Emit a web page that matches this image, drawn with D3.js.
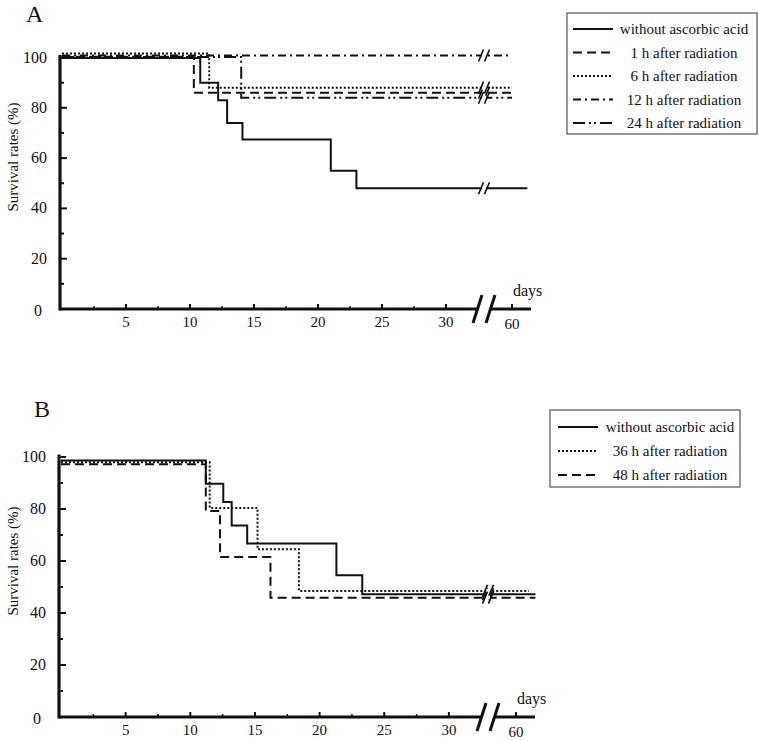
<!DOCTYPE html>
<html>
<head>
<meta charset="utf-8">
<script src="https://cdn.jsdelivr.net/npm/d3@7"></script>
<style>
  body { margin: 0; background: #fff; }
</style>
</head>
<body>
<div id="chart"></div>
<script>
// axis ticks shared by both panels
var xTicks = [5, 10, 15, 20, 25, 30, 60];
var xMinorTicks = [2.5, 7.5, 12.5, 17.5, 22.5, 27.5];
var yTicks = [0, 20, 40, 60, 80, 100];
var yMinorTicks = [10, 30, 50, 70, 90];

// Panel A - survival (%) by day, step curves
var aWithoutDays = [0, 10.8, 12.2, 12.9, 14.1, 21, 23, 61.2];
var aWithoutSurv = [99.8, 90, 83, 74, 67.4, 55, 48, 48];
var a1hDays = [0, 10.3, 60];
var a1hSurv = [100.3, 86, 86];
var a6hDays = [0, 11.5, 60];
var a6hSurv = [101.6, 88, 88];
var a12hDays = [0, 60];
var a12hSurv = [100.8, 100.8];
var a24hDays = [0, 14, 60];
var a24hSurv = [100.2, 84, 84];
var aLabels = ["without ascorbic acid", "1 h after radiation", "6 h after radiation",
               "12 h after radiation", "24 h after radiation"];

// Panel B
var bWithoutDays = [0, 11.2, 12.55, 13.2, 14.4, 21.3, 23.3, 61.5];
var bWithoutSurv = [98.7, 89.7, 82.7, 73.7, 66.7, 54.5, 47.2, 47.2];
var b36hDays = [0, 11.5, 15.2, 18.4, 61];
var b36hSurv = [98, 80.4, 64.5, 48.5, 48.5];
var b48hDays = [0, 11.2, 12.3, 16.2, 61.5];
var b48hSurv = [97.2, 79.2, 61.5, 45.9, 45.9];
var bLabels = ["without ascorbic acid", "36 h after radiation", "48 h after radiation"];

// dash styles
var styles = {
    solid: null,
    dash: "9,5",
    dot: "2,2",
    dashDot: "8,4,2,4",
    dashDotDot: "12,4,2,3,2,4"
};

var FONT = "'Liberation Serif', 'DejaVu Serif', 'Times New Roman', serif";
var width = 759, height = 741;
var svg = d3.select("#chart").append("svg")
    .attr("width", width)
    .attr("height", height)
    .attr("font-family", FONT)
    .style("font-family", FONT);

function zip(days, surv) {
    return days.map(function(d, i) { return {d: d, s: surv[i]}; });
}

// all text goes through here so the serif face sticks
function addText(sel, size) {
    return sel.append("text")
        .attr("font-family", FONT)
        .style("font-family", FONT)
        .style("font-size", size + "px")
        .attr("fill", "#111");
}

/**
 * Draw one Kaplan-Meier style panel
 */
function drawPanel(p) {
    var g = svg.append("g");

    // piecewise x scale with the 33 -> 59 days break
    var x = d3.scaleLinear()
        .domain([0, 33, 58.8, 62])
        .range([p.x0, p.x0 + p.dx * 33, p.x60 - 1.2 * p.dx, p.x60 + 2 * p.dx]);
    var y = d3.scaleLinear().domain([0, 100]).range([p.y0, p.y0 - p.dy * 100]);

    // panel letter
    addText(g, 24)
        .attr("x", p.letterX).attr("y", p.letterY)
        .text(p.letter);

    // y axis title
    addText(g, 15)
        .attr("transform", "translate(" + 18 + "," + p.titleY + ") rotate(-90)")
        .attr("text-anchor", "middle")
        .text("Survival rates (%)");

    // series
    var line = d3.line()
        .x(function(d) { return x(d.d); })
        .y(function(d) { return y(d.s); })
        .curve(d3.curveStepAfter);

    p.series.forEach(function(s) {
        g.append("path")
            .datum(zip(s.days, s.surv))
            .attr("fill", "none")
            .attr("stroke", "#111")
            .attr("stroke-width", 2)
            .attr("stroke-dasharray", styles[s.style])
            .attr("d", line);
    });

    // break marks on each curve
    p.series.forEach(function(s) {
        var yy = y(s.surv[s.surv.length - 1]);
        g.append("rect")
            .attr("x", p.xBreak - 2).attr("y", yy - 2)
            .attr("width", 4).attr("height", 4)
            .attr("fill", "#fff");
        [-3, 3].forEach(function(o) {
            g.append("line")
                .attr("x1", p.xBreak + o - 2.5).attr("y1", yy + 6)
                .attr("x2", p.xBreak + o + 2.5).attr("y2", yy - 6)
                .attr("stroke", "#111").attr("stroke-width", 1.6);
        });
    });

    // x axis line, broken
    g.append("line")
        .attr("x1", p.x0 - 2).attr("x2", p.xBreak - 6)
        .attr("y1", p.y0).attr("y2", p.y0)
        .attr("stroke", "#111").attr("stroke-width", 3.2);
    g.append("line")
        .attr("x1", p.xBreak + 6).attr("x2", p.xEnd)
        .attr("y1", p.y0).attr("y2", p.y0)
        .attr("stroke", "#111").attr("stroke-width", 3.2);
    [-6.5, 6.5].forEach(function(o) {
        g.append("line")
            .attr("x1", p.xBreak + o - 4.5).attr("y1", p.y0 + 14)
            .attr("x2", p.xBreak + o + 4.5).attr("y2", p.y0 - 14)
            .attr("stroke", "#111").attr("stroke-width", 3);
    });

    // x ticks
    g.selectAll(".xtick").data(xTicks).enter().append("line")
        .attr("x1", function(d) { return x(d); }).attr("x2", function(d) { return x(d); })
        .attr("y1", p.y0).attr("y2", p.y0 - 5)
        .attr("stroke", "#111").attr("stroke-width", 2);
    g.selectAll(".xminor").data(xMinorTicks).enter().append("line")
        .attr("x1", function(d) { return x(d); }).attr("x2", function(d) { return x(d); })
        .attr("y1", p.y0).attr("y2", p.y0 - 3)
        .attr("stroke", "#111").attr("stroke-width", 1.5);
    xTicks.forEach(function(d) {
        addText(g, 15)
            .attr("x", x(d))
            .attr("y", p.y0 + (d == 60 ? 20 : 18))
            .attr("text-anchor", "middle")
            .text(d);
    });
    addText(g, 16)
        .attr("x", x(60) + 1).attr("y", p.y0 - 13)
        .text("days");

    // y axis
    g.append("line")
        .attr("x1", p.x0 - 2).attr("x2", p.x0 - 2)
        .attr("y1", p.y0 + 1.5).attr("y2", y(101))
        .attr("stroke", "#111").attr("stroke-width", 3.2);
    g.selectAll(".ytick").data(yTicks).enter().append("line")
        .attr("x1", p.x0 - 2).attr("x2", p.x0 + 5)
        .attr("y1", function(d) { return y(d); }).attr("y2", function(d) { return y(d); })
        .attr("stroke", "#111").attr("stroke-width", 2);
    g.selectAll(".yminor").data(yMinorTicks).enter().append("line")
        .attr("x1", p.x0 - 2).attr("x2", p.x0 + 2)
        .attr("y1", function(d) { return y(d); }).attr("y2", function(d) { return y(d); })
        .attr("stroke", "#111").attr("stroke-width", 2);
    yTicks.forEach(function(d) {
        addText(g, 16)
            .attr("x", d == 0 ? p.x0 - 20 : p.x0 - 15)
            .attr("y", y(d) + (d == 0 ? 7 : 5))
            .attr("text-anchor", "end")
            .text(d);
    });

    // legend
    var lg = g.append("g");
    lg.append("rect")
        .attr("x", p.legX).attr("y", p.legY)
        .attr("width", p.legW).attr("height", p.legH)
        .attr("fill", "#fff").attr("stroke", "#333").attr("stroke-width", 1);
    p.series.forEach(function(s, i) {
        var yy = p.legRow0 + i * p.legStep;
        lg.append("line")
            .attr("x1", p.legLineX).attr("x2", p.legLineX + 40)
            .attr("y1", yy).attr("y2", yy)
            .attr("stroke", "#111").attr("stroke-width", 2)
            .attr("stroke-dasharray", styles[s.style]);
        addText(lg, 15)
            .attr("x", p.legTextX).attr("y", yy + 5)
            .attr("text-anchor", "middle")
            .text(p.labels[i]);
    });
}

drawPanel({
    letter: "A", letterX: 26, letterY: 22,
    x0: 62, dx: 12.8, x60: 512, xBreak: 484, xEnd: 531,
    y0: 309, dy: 2.515, titleY: 157,
    labels: aLabels,
    series: [
        {days: aWithoutDays, surv: aWithoutSurv, style: "solid"},
        {days: a1hDays, surv: a1hSurv, style: "dash"},
        {days: a6hDays, surv: a6hSurv, style: "dot"},
        {days: a12hDays, surv: a12hSurv, style: "dashDot"},
        {days: a24hDays, surv: a24hSurv, style: "dashDotDot"}
    ],
    legX: 567, legY: 13, legW: 190, legH: 121,
    legRow0: 29, legStep: 23.5, legLineX: 573, legTextX: 684
});

drawPanel({
    letter: "B", letterX: 34, letterY: 417,
    x0: 61, dx: 12.93, x60: 516, xBreak: 488, xEnd: 535,
    y0: 717, dy: 2.6, titleY: 561,
    labels: bLabels,
    series: [
        {days: bWithoutDays, surv: bWithoutSurv, style: "solid"},
        {days: b36hDays, surv: b36hSurv, style: "dot"},
        {days: b48hDays, surv: b48hSurv, style: "dash"}
    ],
    legX: 550, legY: 410, legW: 190, legH: 77,
    legRow0: 427, legStep: 24, legLineX: 558, legTextX: 670
});
</script>
</body>
</html>
